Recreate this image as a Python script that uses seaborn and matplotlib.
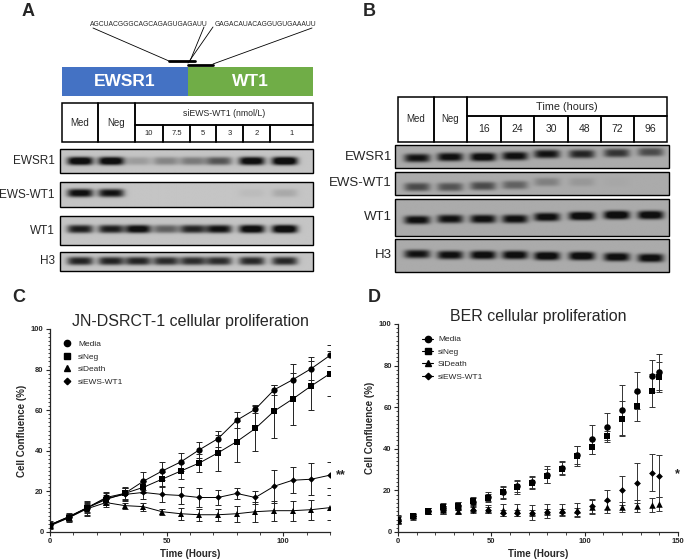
import numpy as np
import pandas as pd
import matplotlib
matplotlib.use('Agg')
import matplotlib.pyplot as plt
from matplotlib.lines import Line2D
from matplotlib.patches import Rectangle
from matplotlib.ticker import MultipleLocator
import seaborn as sns

# ---- data: panel C (JN-DSRCT-1) ----
time_c = [0, 8, 16, 24, 32, 40, 48, 56, 64, 72, 80, 88, 96, 104, 112, 120]
media_c = [3.5, 7.5, 12, 17, 19, 25, 30, 34.5, 40.5, 46, 55, 60.5, 70, 75, 80.5, 87]
media_c_sd = [1.5, 1.5, 2, 2, 2.5, 4.5, 4.5, 4.5, 4, 4, 4, 2, 2.5, 8, 5.5, 5]
sineg_c = [3, 7, 12, 16, 19, 22, 26, 30, 34, 39, 44.5, 51, 59.5, 65.5, 72, 78]
sineg_c_sd = [1, 1.5, 3.5, 2, 3, 3, 3.5, 4, 4.5, 9, 10, 11, 13, 13, 12, 11]
sideath_c = [3.5, 7, 11.5, 14.5, 13, 12.5, 10, 9, 8.5, 8.5, 9, 10, 10.5, 10.5, 11, 12]
sideath_c_sd = [1, 2, 3.5, 2, 1.5, 2, 1.5, 3, 3, 3, 4, 5, 5, 5, 5, 6]
siews_c = [3.5, 7.5, 12, 16.5, 18.5, 19.5, 18.5, 18, 17, 17, 19, 17, 22.5, 25.5, 26, 28]
siews_c_sd = [2, 2, 2.5, 3, 3, 3, 3.5, 4, 4.5, 3.5, 2.5, 3, 8, 6.5, 8, 6.5]

# ---- data: panel D (BER) ----
time_d = [0, 8, 16, 24, 32, 40, 48, 56, 64, 72, 80, 88, 96, 104, 112, 120, 128, 136, 140]
media_d = [6, 7.5, 10, 11.5, 12.5, 14.5, 17, 19, 22, 24, 27.5, 31, 37, 44.5, 50.5, 58.5, 68, 75, 77]
media_d_sd = [1.5, 1, 1.5, 2, 2, 2, 2, 3, 3, 3, 4, 3, 4.5, 7, 6.5, 12, 9, 7.5, 8.5]
sineg_d = [6, 7.5, 10, 12, 12.5, 15, 16.5, 19, 21.5, 23.5, 27, 30.5, 36.5, 41, 46, 54.5, 60.5, 68, 74.5]
sineg_d_sd = [2, 1.5, 1.5, 2, 2, 2, 2, 2.5, 3, 3, 3.5, 3, 5, 3.5, 2.5, 8.5, 7, 8, 7]
sideath_d = [6, 7.5, 10, 10.5, 10, 11.5, 11, 10.5, 10.5, 9.5, 10, 10.5, 10.5, 12, 12, 12, 12.5, 13, 13.5]
sideath_d_sd = [1.5, 1, 1.5, 2, 1.5, 2, 2, 3, 3, 3.5, 3.5, 3, 3.5, 3.5, 3, 2.5, 3, 3.5, 3.5]
siews_d = [5.5, 7.5, 10, 10.5, 11, 10.5, 10.5, 9, 9, 9, 9.5, 9.5, 9.5, 12.5, 15.5, 20, 23.5, 28.5, 27]
siews_d_sd = [1.5, 1, 1.5, 2, 2, 1.5, 1.5, 1.5, 1.5, 1.5, 1.5, 1.5, 2, 3.5, 4.5, 7, 9.5, 9, 10]

groups_c = ['Media', 'siNeg', 'siDeath', 'siEWS-WT1']
groups_d = ['Media', 'siNeg', 'SiDeath', 'siEWS-WT1']
marker_list = ['o', 's', '^', 'D']

# ---- data: western blots (band intensity 0..1 per lane) ----
blot_a_rows = ['EWSR1', 'EWS-WT1', 'WT1', 'H3']
blot_a_lanes_top = ['Med', 'Neg']
blot_a_doses = ['10', '7.5', '5', '3', '2', '1']
blot_a_ewsr1 = [0.95, 0.95, 0.18, 0.28, 0.33, 0.5, 0.92, 1.0]
blot_a_ewswt1 = [0.85, 0.8, 0.0, 0.0, 0.0, 0.0, 0.04, 0.12]
blot_a_wt1 = [0.75, 0.75, 0.88, 0.45, 0.72, 0.82, 0.92, 0.97]
blot_a_h3 = [0.72, 0.72, 0.72, 0.68, 0.68, 0.68, 0.7, 0.7]

blot_b_rows = ['EWSR1', 'EWS-WT1', 'WT1', 'H3']
blot_b_lanes_top = ['Med', 'Neg']
blot_b_hours = ['16', '24', '30', '48', '72', '96']
blot_b_ewsr1 = [0.8, 0.85, 0.92, 0.85, 0.8, 0.7, 0.62, 0.5]
blot_b_ewswt1 = [0.5, 0.45, 0.5, 0.38, 0.22, 0.1, 0.02, 0.0]
blot_b_wt1 = [0.85, 0.82, 0.85, 0.85, 0.88, 0.97, 1.0, 0.95]
blot_b_h3 = [0.8, 0.85, 0.9, 0.9, 0.95, 0.95, 0.9, 0.9]

sns.set_theme(style='ticks')
plt.rcParams['font.family'] = ['Liberation Sans', 'DejaVu Sans']

W, H = 685, 560
fig = plt.figure(figsize=(W / 100, H / 100), dpi=100)

# overlay axes in pixel coordinates for panels A and B
ov = fig.add_axes([0, 0, 1, 1])
ov.set_xlim(0, W)
ov.set_ylim(H, 0)
ov.axis('off')


def draw_strip(x0, x1, y0, y1, centers, ys, vals, bg, bw, bh):
    xs = np.linspace(x0, x1, 400)
    yy = np.linspace(y0, y1, 80)
    X, Y = np.meshgrid(xs, yy)
    dens = np.zeros_like(X)
    for cx, cy, v in zip(centers, ys, vals):
        dens += v * np.exp(-((X - cx) / bw) ** 4) * np.exp(-np.abs((Y - cy) / bh) ** 3)
    img = bg - (bg - 0.06) * np.clip(1.25 * dens, 0, 1)
    ov.imshow(img, cmap='gray', vmin=0, vmax=1, extent=(x0, x1, y1, y0),
              aspect='auto', interpolation='bilinear', zorder=1)
    ov.add_patch(Rectangle((x0, y0), x1 - x0, y1 - y0, fill=False, lw=1, ec='black', zorder=2))


def cell(x0, y0, x1, y1, text, size=7):
    ov.add_patch(Rectangle((x0, y0), x1 - x0, y1 - y0, fill=False, lw=1.1, ec='black', zorder=2))
    ov.text((x0 + x1) / 2, (y0 + y1) / 2, text, ha='center', va='center', fontsize=size)


# ---- panel A ----
ov.text(22, 12, 'A', fontsize=13, fontweight='bold', ha='left', va='center')
ov.text(90, 25, 'AGCUACGGGCAGCAGAGUGAGAUU', fontsize=4.9, ha='left', va='center')
ov.text(215, 25, 'GAGACAUACAGGUGUGAAAUU', fontsize=4.9, ha='left', va='center')
ov.plot([93, 169], [28, 61], color='black', lw=0.6)
ov.plot([204, 190], [27, 61], color='black', lw=0.6)
ov.plot([213, 188], [27, 63], color='black', lw=0.6)
ov.plot([312, 213], [28, 64], color='black', lw=0.6)
ov.plot([169, 195], [61, 61], color='black', lw=2)
ov.plot([188, 213], [64.5, 64.5], color='black', lw=2)
ov.add_patch(Rectangle((62, 67), 126, 29, fc='#4472c4', ec='none'))
ov.add_patch(Rectangle((188, 67), 125, 29, fc='#70ad47', ec='none'))
ov.text(125, 82, 'EWSR1', color='white', fontsize=12.5, fontweight='bold', ha='center', va='center')
ov.text(250, 82, 'WT1', color='white', fontsize=12.5, fontweight='bold', ha='center', va='center')

cell(62, 103, 98, 142, blot_a_lanes_top[0])
cell(98, 103, 135, 142, blot_a_lanes_top[1])
cell(135, 103, 313, 125, 'siEWS-WT1 (nmol/L)', size=6.3)
dose_edges = [135, 163, 190, 216, 243, 270, 313]
for i, d in enumerate(blot_a_doses):
    cell(dose_edges[i], 125, dose_edges[i + 1], 142, d, size=5.5)

lanes_a = [80, 111, 138, 166, 193, 219, 252, 285]
strips_a = [(149, 173, 161, blot_a_ewsr1), (182, 207, 193, blot_a_ewswt1),
            (216, 245, 229, blot_a_wt1), (252, 271, 261, blot_a_h3)]
for name, (y0, y1, yc, vals) in zip(blot_a_rows, strips_a):
    draw_strip(60, 313, y0, y1, lanes_a, [yc] * 8, vals, 0.77, 13, 4.2)
    ov.text(55, (y0 + y1) / 2, name, ha='right', va='center', fontsize=8.5)

# ---- panel B ----
ov.text(363, 12, 'B', fontsize=13, fontweight='bold', ha='left', va='center')
cell(398, 97, 434, 142, blot_b_lanes_top[0])
cell(434, 97, 467, 142, blot_b_lanes_top[1])
cell(467, 97, 667, 116, 'Time (hours)', size=7.8)
hour_edges = [467, 501, 534, 568, 601, 634, 667]
for i, h in enumerate(blot_b_hours):
    cell(hour_edges[i], 116, hour_edges[i + 1], 142, h, size=7.5)

lanes_b = [417, 450, 483, 515, 547, 582, 617, 651]
strips_b = [(145, 168, [158, 157, 157, 156, 154, 154, 153, 152], blot_b_ewsr1),
            (172, 195, [187, 187, 186, 185, 182, 182, 182, 182], blot_b_ewswt1),
            (199, 236, [220, 219, 219, 219, 217, 216, 215, 215], blot_b_wt1),
            (239, 272, [254, 255, 255, 255, 256, 256, 257, 258], blot_b_h3)]
for name, (y0, y1, ycs, vals) in zip(blot_b_rows, strips_b):
    draw_strip(395, 669, y0, y1, lanes_b, ycs, vals, 0.67, 13, 4.3)
    ov.text(392, (y0 + y1) / 2, name, ha='right', va='center', fontsize=9.5)

# ---- panels C and D ----
ov.text(12, 298, 'C', fontsize=13, fontweight='bold', ha='left', va='center')
ov.text(368, 298, 'D', fontsize=13, fontweight='bold', ha='left', va='center')


def px_axes(x0, y0, x1, y1):
    return fig.add_axes([x0 / W, 1 - y1 / H, (x1 - x0) / W, (y1 - y0) / H])


def long_df(time, series, sds, names):
    rows = []
    for name, vals, sd in zip(names, series, sds):
        for t, v, s in zip(time, vals, sd):
            rows.append({'Time': t, 'Conf': v, 'SD': s, 'Group': name})
    return pd.DataFrame(rows)


def style_axis(ax, xmax, xmajor):
    ax.set_xlim(0, xmax)
    ax.set_ylim(0, 100)
    ax.xaxis.set_major_locator(MultipleLocator(xmajor))
    ax.xaxis.set_minor_locator(MultipleLocator(10))
    ax.yaxis.set_major_locator(MultipleLocator(20))
    ax.yaxis.set_minor_locator(MultipleLocator(2))
    ax.tick_params(which='major', length=3, width=0.8, labelsize=5.5, pad=1.5)
    ax.tick_params(which='minor', length=1.8, width=0.6)
    for lab in ax.get_xticklabels() + ax.get_yticklabels():
        lab.set_fontweight('bold')
    sns.despine(ax=ax)
    for sp in ['left', 'bottom']:
        ax.spines[sp].set_linewidth(0.9)
    ax.set_xlabel('Time (Hours)', fontsize=7, fontweight='bold', labelpad=3)
    ax.set_ylabel('Cell Confluence (%)', fontsize=7, fontweight='bold', labelpad=3)


markers_c = dict(zip(groups_c, marker_list))
markers_d = dict(zip(groups_d, marker_list))
sizes = {'o': 4.5, 's': 4.5, '^': 4.5, 'D': 3.3}

# C
dfc = long_df(time_c, [media_c, sineg_c, sideath_c, siews_c],
              [media_c_sd, sineg_c_sd, sideath_c_sd, siews_c_sd], groups_c)
axc = px_axes(50, 329, 330, 532)
for g in groups_c:
    sub = dfc[dfc['Group'] == g]
    axc.errorbar(sub['Time'], sub['Conf'], yerr=sub['SD'], fmt='none', ecolor='#222222',
                 elinewidth=0.7, capsize=2.2, capthick=0.7, zorder=2)
sns.lineplot(data=dfc, x='Time', y='Conf', hue='Group', style='Group', markers=markers_c,
             dashes=False, palette=['black'] * 4, linewidth=0.7, markersize=4.5,
             markeredgewidth=0, legend=False, ax=axc, zorder=3)
for line, g in zip(axc.get_lines()[-4:], groups_c):
    line.set_markersize(sizes[markers_c[g]])
style_axis(axc, 120, 50)
axc.set_title('JN-DSRCT-1 cellular proliferation', fontsize=11.5, pad=2)
handles_c = [Line2D([], [], color='black', marker=markers_c[g], linestyle='none',
                    markersize=sizes[markers_c[g]]) for g in groups_c]
axc.legend(handles_c, groups_c, loc='upper left', bbox_to_anchor=(0.02, 0.98), frameon=False,
           fontsize=6, handlelength=1.0, handletextpad=0.8, labelspacing=0.55)
axc.text(1.02, 28, '**', transform=axc.get_yaxis_transform(), fontsize=9,
         fontweight='bold', ha='left', va='center')

# D
dfd = long_df(time_d, [media_d, sineg_d, sideath_d, siews_d],
              [media_d_sd, sineg_d_sd, sideath_d_sd, siews_d_sd], groups_d)
axd = px_axes(398, 324, 678, 532)
for g in groups_d:
    sub = dfd[dfd['Group'] == g]
    axd.errorbar(sub['Time'], sub['Conf'], yerr=sub['SD'], fmt='none', ecolor='#333333',
                 elinewidth=0.7, capsize=2.2, capthick=0.7, zorder=2)
point_area = {'o': 22, 's': 22, '^': 22, 'D': 12}
for g in groups_d:
    m = markers_d[g]
    sns.scatterplot(data=dfd[dfd['Group'] == g], x='Time', y='Conf', marker=m,
                    color='black', s=point_area[m], linewidth=0, ax=axd, zorder=3)
style_axis(axd, 150, 50)
axd.set_title('BER cellular proliferation', fontsize=11.5, pad=2)
handles_d = [Line2D([], [], color='black', marker=markers_d[g], linestyle='-', lw=0.8,
                    markersize=sizes[markers_d[g]]) for g in groups_d]
axd.legend(handles_d, groups_d, loc='upper left', bbox_to_anchor=(0.06, 0.98), frameon=False,
           fontsize=6, handlelength=1.3, handletextpad=0.6, labelspacing=0.55)
axd.text(0.99, 28, '*', transform=axd.get_yaxis_transform(), fontsize=9,
         fontweight='bold', ha='left', va='center')

fig.savefig('out.png', dpi=100)
